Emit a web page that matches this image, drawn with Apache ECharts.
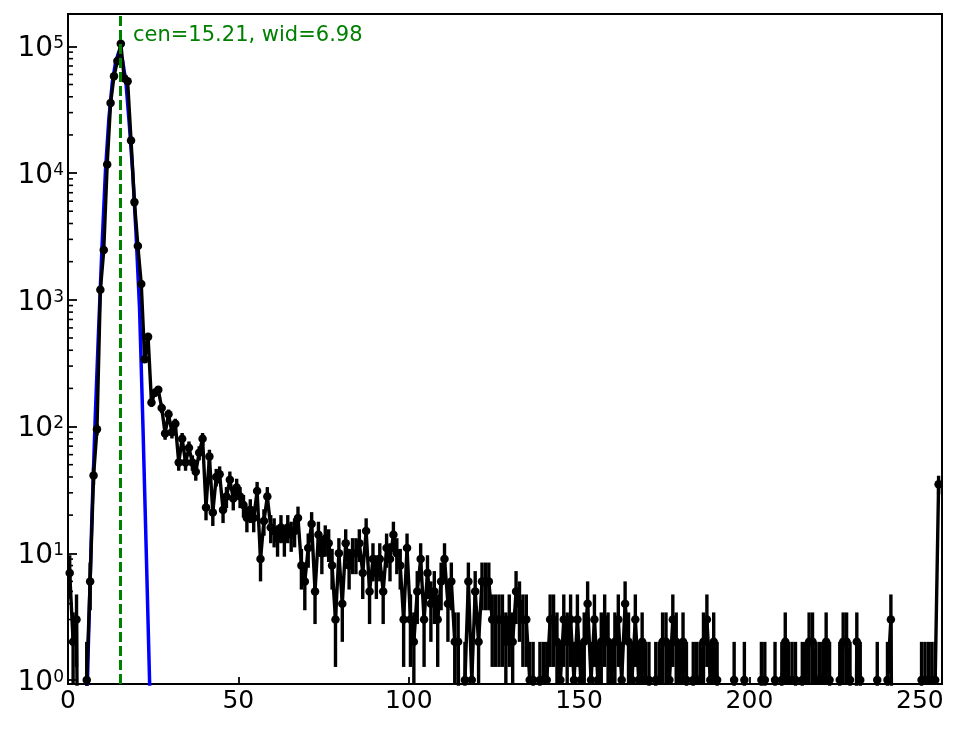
<!DOCTYPE html>
<html><head><meta charset="utf-8">
<script src="https://cdn.jsdelivr.net/npm/echarts@6/dist/echarts.min.js"></script>
<style>html,body{margin:0;padding:0;background:#fff}#c{width:964px;height:729px}</style>
</head><body><div id="c"></div>
<script>
// Histogram counts, one per bin (bin i drawn at i + 0.5)
const counts = [
  7, 2, 3, 0, 0, 1, 6, 41, 95, 1200,
  2470, 11700, 35700, 58000, 76700, 105000, 56000, 53000, 18100, 5900,
  2660, 1330, 340, 510, 155, 185, 195, 140, 88, 125,
  90, 105, 52, 80, 52, 68, 52, 44, 62, 80,
  23, 58, 21, 40, 42, 22, 28, 38, 27, 33,
  28, 24, 19, 22, 19, 31, 9, 18, 28, 16,
  15, 13, 16, 13, 16, 14, 15, 19, 8, 6,
  11, 17, 5, 14, 10, 13, 12, 8, 3, 10,
  4, 12, 8, 10, 10, 12, 7, 15, 5, 9,
  7, 9, 5, 11, 9, 14, 10, 8, 3, 11,
  3, 2, 5, 9, 3, 7, 4, 5, 3, 6,
  9, 4, 6, 2, 2, 0, 1, 6, 1, 5,
  2, 6, 6, 6, 3, 3, 3, 3, 2, 3,
  2, 5, 4, 3, 3, 1, 1, 0, 1, 1,
  1, 3, 3, 2, 1, 3, 2, 3, 1, 3,
  1, 2, 4, 1, 3, 1, 2, 3, 2, 1,
  2, 3, 1, 4, 2, 1, 3, 1, 2, 1,
  1, 0, 1, 1, 2, 2, 1, 3, 2, 1,
  2, 1, 0, 1, 1, 1, 2, 3, 1, 2,
  1, 0, 0, 0, 0, 1, 0, 0, 1, 0,
  0, 0, 0, 1, 1, 0, 0, 1, 0, 1,
  2, 1, 1, 1, 0, 1, 1, 2, 2, 1,
  1, 1, 2, 1, 0, 0, 1, 2, 2, 1,
  0, 2, 1, 0, 0, 0, 0, 1, 0, 0,
  1, 3, 0, 0, 0, 0, 0, 0, 0, 0,
  1, 1, 1, 1, 1, 35
];
// Fitted curve (blue)
const fitX = [5, 6, 7, 8, 9, 10, 11, 12, 13, 14, 15, 16, 17, 18, 19, 20, 21, 22, 23, 24, 25];
const fitY = [0.17, 2.0, 19, 120, 600, 2700, 10500, 27000, 52000, 76000, 92000,
              78000, 52000, 24000, 10000, 3200, 850, 100, 9.5, 0.85, 0.05];
const fitCenter = 15.21;
const fitWidth = 6.98;
const xTickStep = 50;
const minorFactors = [2, 3, 4, 5, 6, 7, 8, 9];
const decades = [0, 1, 2, 3, 4, 5];

const FONT = 'DejaVu Sans';
const X_MIN = 0, X_MAX = 256.5;
const Y_MIN = 0.93, Y_MAX = 1.8e5;
const FLOOR = 1e-3; // stand-in for zero counts on the log axis (drawn below the frame)

const binCenters = counts.map((_, i) => i + 0.5);
const pointData = counts.map((c, i) => ({
  value: [binCenters[i], c > 0 ? c : FLOOR],
  symbolSize: c > 0 ? 8.5 : 0
}));
const errData = [];
counts.forEach((c, i) => {
  if (c > 0) errData.push([binCenters[i], Math.max(c - Math.sqrt(c), FLOOR), c + Math.sqrt(c)]);
});
const fitData = fitX.map((x, i) => [x, fitY[i]]);
const minorData = [];
decades.forEach(e => minorFactors.forEach(m => {
  const v = m * Math.pow(10, e);
  if (v > Y_MIN && v < Y_MAX) minorData.push([X_MIN, v]);
}));

function renderErr(params, api) {
  const cs = params.coordSys;
  const x = api.value(0);
  const pLo = api.coord([x, api.value(1)]);
  const pHi = api.coord([x, api.value(2)]);
  const bottom = cs.y + cs.height;
  return {
    type: 'line',
    shape: { x1: pLo[0], y1: Math.min(pLo[1], bottom), x2: pHi[0], y2: Math.max(pHi[1], cs.y) },
    style: { stroke: '#000', lineWidth: 3.4 }
  };
}
function renderMinor(params, api) {
  const cs = params.coordSys;
  const p = api.coord([X_MIN, api.value(1)]);
  return {
    type: 'line',
    shape: { x1: cs.x, y1: p[1], x2: cs.x + 5, y2: p[1] },
    style: { stroke: '#000', lineWidth: 1.6 }
  };
}

const chart = echarts.init(document.getElementById('c'));
chart.setOption({
  animation: false,
  backgroundColor: '#fff',
  grid: { left: 68, right: 22, top: 14, bottom: 45, show: true, borderColor: '#000', borderWidth: 2, backgroundColor: 'transparent' },
  xAxis: {
    type: 'value', min: X_MIN, max: X_MAX, interval: xTickStep,
    axisLine: { show: false },
    axisTick: { inside: true, length: 7, lineStyle: { color: '#000', width: 1.8 } },
    splitLine: { show: false },
    axisLabel: {
      margin: 5, color: '#000', fontFamily: FONT, fontSize: 25,
      formatter: v => (Math.abs(v % xTickStep) < 1e-9 ? String(v) : '')
    }
  },
  yAxis: {
    type: 'log', logBase: 10, min: Y_MIN, max: Y_MAX,
    axisLine: { show: false },
    axisTick: { inside: true, length: 9, lineStyle: { color: '#000', width: 1.8 } },
    splitLine: { show: false },
    axisLabel: {
      margin: 4, color: '#000',
      formatter: v => {
        const l = Math.log10(v), e = Math.round(l);
        return Math.abs(l - e) < 1e-6 ? '{b|10}{s|' + e + '}' : '';
      },
      rich: {
        b: { fontFamily: FONT, fontSize: 28, color: '#000', padding: [5, 0, 0, 0] },
        s: { fontFamily: FONT, fontSize: 17, color: '#000', padding: [0, 0, 5, 0] }
      }
    }
  },
  graphic: [{
    type: 'text', left: 133, top: 25, z: 100,
    style: { text: `cen=${fitCenter.toFixed(2)}, wid=${fitWidth.toFixed(2)}`, fill: '#008000', font: `21px "${FONT}"` }
  }],
  series: [
    {
      type: 'line', data: fitData, showSymbol: false, symbol: 'none', z: 2,
      lineStyle: { color: '#0000ff', width: 3.5 }, clip: true,
      markLine: {
        silent: true, symbol: 'none', animation: false,
        label: { show: false },
        lineStyle: { color: '#008000', width: 3, type: [10, 4] },
        data: [{ xAxis: fitCenter }]
      }
    },
    {
      type: 'custom', data: errData, renderItem: renderErr, z: 3, clip: true,
      encode: { x: 0, y: [1, 2] }
    },
    {
      type: 'line', data: pointData, symbol: 'circle', z: 4, clip: true,
      lineStyle: { color: '#000', width: 3.4 },
      itemStyle: { color: '#000' }
    },
    {
      type: 'custom', data: minorData, renderItem: renderMinor, z: 5,
      encode: { x: 0, y: 1 }
    }
  ]
});
</script></body></html>
